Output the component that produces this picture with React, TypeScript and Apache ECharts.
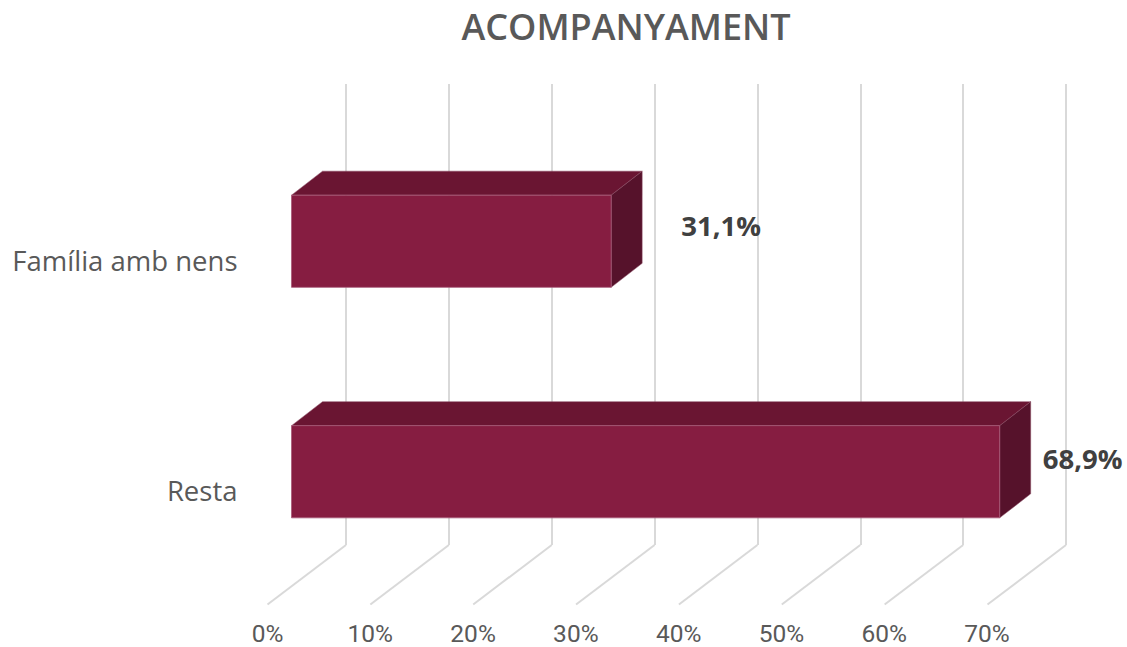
import React, { useEffect, useRef } from "react";
import * as echarts from "echarts";

const title = "ACOMPANYAMENT";
const categories = ["Família amb nens", "Resta"];
const shares = [31.1, 68.9];
const axisTicks = [0, 10, 20, 30, 40, 50, 60, 70];

const FONT = "'Open Sans', 'Noto Sans', sans-serif";
const DEPTH_BAR = [31, -24];
const DEPTH_FLOOR = [78.5, -59.5];
const LABEL_SHIFT = [
  [110, -16],
  [83, -13],
];

const pct = (v: number) => v.toFixed(1).replace(".", ",") + "%";

export default function App() {
  const ref = useRef<HTMLDivElement>(null);
  useEffect(() => {
    const chart = echarts.init(ref.current!, null, { renderer: "svg" });
    const hiddenX = { type: "value", min: 0, max: 70, interval: 10, axisLine: { show: false }, axisTick: { show: false }, axisLabel: { show: false }, splitLine: { show: false } };
    const hiddenY = { type: "category", data: categories, inverse: true, axisLine: { show: false }, axisTick: { show: false }, axisLabel: { show: false } };
    chart.setOption({
      animation: false,
      backgroundColor: "#ffffff",
      title: {
        text: title,
        left: 621,
        top: 3,
        textAlign: "center",
        textStyle: { fontFamily: FONT, fontSize: 36, fontWeight: 600, color: "#595959" },
      },
      grid: [
        { left: 267.5, top: 145.5, width: 719.5, height: 460 },
        { left: 346, top: 84, width: 720, height: 461 },
        { left: 291.5, top: 126, width: 719.5, height: 461 },
      ],
      xAxis: [
        {
          ...hiddenX,
          gridIndex: 0,
          axisLabel: { show: true, formatter: "{value}%", margin: 18, lineHeight: 20, fontFamily: "Roboto, 'Open Sans', sans-serif", fontSize: 24.5, color: "#595959" },
        },
        { ...hiddenX, gridIndex: 1, splitLine: { show: true, lineStyle: { color: "#d9d9d9", width: 2 } } },
        { ...hiddenX, gridIndex: 2 },
      ],
      yAxis: [
        {
          ...hiddenY,
          gridIndex: 0,
          axisLabel: { show: true, margin: 30, fontFamily: FONT, fontSize: 27.5, color: "#595959" },
        },
        { ...hiddenY, gridIndex: 1 },
        { ...hiddenY, gridIndex: 2 },
      ],
      series: [
        {
          type: "custom",
          name: "floor",
          xAxisIndex: 1,
          yAxisIndex: 1,
          silent: true,
          z: 1,
          data: axisTicks.map((t) => [t]),
          encode: { x: 0 },
          renderItem: (_p: any, api: any) => {
            const [x, y] = api.coord([api.value(0), 1]);
            const h = api.size([0, 1])[1];
            const y0 = y + h / 2;
            return {
              type: "line",
              shape: { x1: x, y1: y0, x2: x - DEPTH_FLOOR[0], y2: y0 - DEPTH_FLOOR[1] },
              style: { stroke: "#d9d9d9", lineWidth: 2 },
            };
          },
        },
        {
          type: "custom",
          name: "Acompanyament",
          xAxisIndex: 2,
          yAxisIndex: 2,
          silent: true,
          z: 3,
          data: shares.map((v, i) => [v, i]),
          encode: { x: 0, y: 1 },
          renderItem: (p: any, api: any) => {
            const v = api.value(0);
            const i = api.value(1);
            const [x1, yc] = api.coord([v, i]);
            const [x0] = api.coord([0, i]);
            const h = api.size([0, 1])[1] * 0.4;
            const t = yc - h / 2;
            const b = yc + h / 2;
            const [dx, dy] = DEPTH_BAR;
            return {
              type: "group",
              children: [
                {
                  type: "polygon",
                  shape: { points: [[x0, t], [x0 + dx, t + dy], [x1 + dx, t + dy], [x1, t]] },
                  style: { fill: "#6a1532", stroke: "#8a4a62", lineWidth: 0.5 },
                },
                {
                  type: "polygon",
                  shape: { points: [[x1, t], [x1 + dx, t + dy], [x1 + dx, b + dy], [x1, b]] },
                  style: { fill: "#56122b", stroke: "#8a4a62", lineWidth: 0.5 },
                },
                {
                  type: "rect",
                  shape: { x: x0, y: t, width: x1 - x0, height: b - t },
                  style: { fill: "#861d41", stroke: "#a85a78", lineWidth: 0.8 },
                },
                {
                  type: "text",
                  x: x1 + LABEL_SHIFT[p.dataIndex][0],
                  y: yc + LABEL_SHIFT[p.dataIndex][1],
                  style: {
                    text: pct(v),
                    fontFamily: FONT,
                    fontSize: 27.5,
                    fontWeight: 700,
                    fill: "#404040",
                    align: "center",
                    verticalAlign: "middle",
                  },
                },
              ],
            };
          },
        },
      ],
    });
    return () => chart.dispose();
  }, []);
  return <div ref={ref} style={{ position: "absolute", left: 0, top: 0, width: 1127, height: 647 }} />;
}
